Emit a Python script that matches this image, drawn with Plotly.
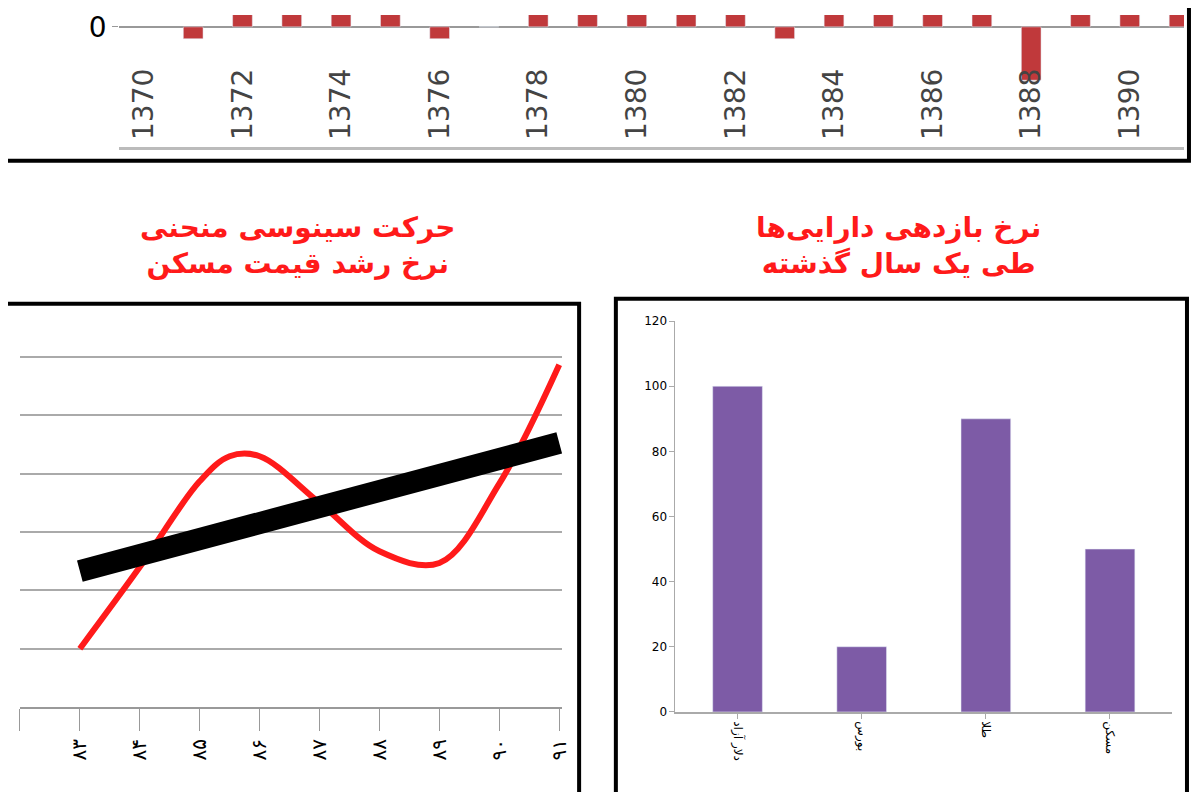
import plotly.graph_objects as go

# top strip: yearly growth
years = list(range(1371, 1392))
growth = [-2, 15, 15, 15, 15, -2, 0, 15, 15, 15, 15, 15, -2, 15, 15, 15, 15, -9, 15, 15, 15]
year_ticks = list(range(1370, 1392, 2))

# bottom left: house price growth vs trend
cycle_x = [83, 84, 85, 85.5, 86, 87, 88, 89, 90, 91]
cycle_y = [1.0, 2.4, 3.87, 4.3, 4.3, 3.5, 2.67, 2.47, 3.83, 5.87]
trend_x = [83, 91]
trend_y = [2.33, 4.53]
left_ticks = list(range(82, 92))
left_labels = ["۸۲", "۸۳", "۸۴", "۸۵", "۸۶", "۸۷", "۸۸", "۸۹", "۹۰", "۹۱"]

# bottom right: asset returns
assets = ["دلار آزاد", "بورس", "طلا", "مسکن"]
returns = [100, 20, 90, 50]

W, H, OFF = 1184, 784, 8


# page pixel -> paper coordinate (the page body adds an 8px margin)
def px(x):
    return (x - OFF) / W


def py(y):
    return 1 - (y - OFF) / H


fig = go.Figure()

fig.add_trace(go.Bar(x=years, y=growth, width=0.4, marker_color="#c0393b",
                     xaxis="x", yaxis="y"))
fig.add_trace(go.Scatter(x=cycle_x, y=cycle_y, mode="lines", line=dict(color="#ff1a1a", width=6, shape="spline"),
                         xaxis="x2", yaxis="y2"))
fig.add_trace(go.Scatter(x=trend_x, y=trend_y, mode="lines", line=dict(color="black", width=22),
                         xaxis="x2", yaxis="y2"))
fig.add_trace(go.Bar(x=assets, y=returns, width=0.4, marker_color="#7d5ba6",
                     xaxis="x3", yaxis="y3"))

font = "DejaVu Sans, Noto Sans"
fig.update_layout(
    width=W, height=H, margin=dict(l=0, r=0, t=0, b=0),
    paper_bgcolor="white", plot_bgcolor="white", showlegend=False,
    font=dict(family=font, color="black"),
    xaxis=dict(domain=[px(120), 1], anchor="y", range=[1369.5, 1391.1], tickvals=year_ticks,
               ticklabelposition="inside", tickangle=-90, tickfont=dict(size=28),
               showgrid=False, showline=True, linecolor="#bbbbbb", linewidth=3),
    yaxis=dict(domain=[py(144), 1], anchor="x", range=[-20.3, 2], tickvals=[0, -20], ticktext=["0", "-20"],
               tickfont=dict(size=28), showgrid=False, zeroline=True, zerolinecolor="#999999", zerolinewidth=2,
               ticks="outside", ticklen=6, tickcolor="#999999"),
    xaxis2=dict(domain=[px(20), px(566)], anchor="y2", range=[82, 91.05], tickvals=left_ticks,
                ticktext=left_labels, tickangle=-90, tickfont=dict(size=20), ticks="outside",
                tickcolor="#999999", ticklen=22, showgrid=False, showline=True, linecolor="#999999", linewidth=2),
    yaxis2=dict(domain=[py(720), py(330)], anchor="x2", range=[0, 6.5], dtick=1, showticklabels=False,
                showgrid=True, gridcolor="#aaaaaa", gridwidth=2, zeroline=False),
    xaxis3=dict(domain=[px(680), px(1180)], anchor="y3", tickangle=90, tickfont=dict(size=12),
                showline=True, linecolor="#aaaaaa", linewidth=2, ticks="outside", tickcolor="#aaaaaa"),
    yaxis3=dict(domain=[py(725), py(323)], anchor="x3", range=[0, 120], dtick=20, tickfont=dict(size=12),
                showgrid=False, showline=True, linecolor="#aaaaaa", ticks="outside", tickcolor="#aaaaaa"),
    annotations=[
        dict(text="<b>حرکت سینوسی منحنی<br>نرخ رشد قیمت مسکن</b>", x=px(300), y=py(245),
             xanchor="center", yanchor="middle", xref="paper", yref="paper", showarrow=False,
             font=dict(size=28, color="#ff1a1a", family=font)),
        dict(text="<b>نرخ بازدهی دارایی‌ها<br>طی یک سال گذشته</b>", x=px(905), y=py(245),
             xanchor="center", yanchor="middle", xref="paper", yref="paper", showarrow=False,
             font=dict(size=28, color="#ff1a1a", family=font)),
    ],
    shapes=[
        dict(type="rect", xref="paper", yref="paper", x0=px(3), x1=px(1197), y0=py(158), y1=1.05,
             line=dict(color="black", width=4)),
        dict(type="rect", xref="paper", yref="paper", x0=px(5), x1=px(583), y0=-0.05, y1=py(305),
             line=dict(color="black", width=4)),
        dict(type="rect", xref="paper", yref="paper", x0=px(620), x1=px(1195), y0=-0.05, y1=py(300),
             line=dict(color="black", width=4)),
    ],
)

fig.write_html("out.html")
